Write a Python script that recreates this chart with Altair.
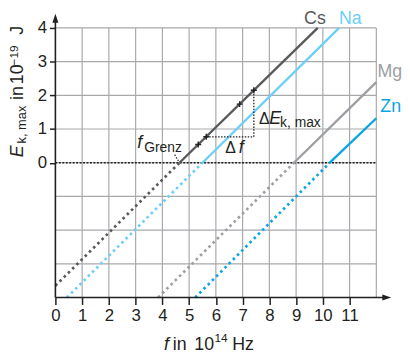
import altair as alt
import pandas as pd

# ---------------- data ----------------
metals = ["Cs", "Na", "Mg", "Zn"]
colors = ["#58595b", "#6dcff6", "#9d9fa2", "#0aa5e3"]
start_x = [0.0, 0.43, 3.84, 5.23]
start_y = [-3.65, -4.0, -4.0, -4.0]
thresh_x = [4.64, 5.50, 8.92, 10.26]
end_x = [9.81, 10.61, 12.0, 12.0]
end_y = [4.0, 4.0, 2.39, 1.32]

cross_x = [5.34, 5.64, 6.89, 7.42]
cross_y = [0.54, 0.77, 1.74, 2.15]

x_ticks = list(range(0, 12))
y_ticks = list(range(0, 5))
grid_vx = list(range(1, 13))
grid_hy = list(range(-4, 5))

INK = "#231f20"
FONT = "Liberation Sans"

xs = alt.Scale(domain=[0, 12], nice=False, zero=False)
ys = alt.Scale(domain=[-4, 4], nice=False, zero=False)
xaxis = alt.Axis(values=x_ticks, title=None, grid=False, domain=False, tickSize=7,
                 tickWidth=1.5, tickColor=INK, labelFontSize=17, labelFont=FONT,
                 labelColor=INK, labelPadding=3, labelFlush=False, labelOverlap=False)
yaxis = alt.Axis(values=y_ticks, title=None, grid=False, domain=False, tickSize=6,
                 tickWidth=1.5, tickColor=INK, labelFontSize=17, labelFont=FONT,
                 labelColor=INK, labelPadding=3, labelFlush=False, labelOverlap=False)


def X(f):
    return alt.X(f, type="quantitative", scale=xs, axis=xaxis)


def Y(f):
    return alt.Y(f, type="quantitative", scale=ys, axis=yaxis)


# line table
rows = []
for m, sx, sy, tx, ex, ey in zip(metals, start_x, start_y, thresh_x, end_x, end_y):
    rows.append({"metal": m, "part": "dot", "x": sx, "y": sy, "o": 0})
    rows.append({"metal": m, "part": "dot", "x": tx, "y": 0.0, "o": 1})
    rows.append({"metal": m, "part": "solid", "x": tx, "y": 0.0, "o": 0})
    rows.append({"metal": m, "part": "solid", "x": ex, "y": ey, "o": 1})
lines = pd.DataFrame(rows)

grid_rows = [{"x": v, "x2": v, "y": -4, "y2": 4} for v in grid_vx]
grid_rows += [{"x": 0, "x2": 12, "y": h, "y2": h} for h in grid_hy]
grid = pd.DataFrame(grid_rows)

color = alt.Color("metal:N", scale=alt.Scale(domain=metals, range=colors), legend=None)

grid_layer = alt.Chart(grid).mark_rule(color="#a7a9ac", strokeWidth=1.2).encode(
    x=X("x"), x2="x2", y=Y("y"), y2="y2")

zero_layer = alt.Chart(pd.DataFrame({"x": [0], "x2": [12], "y": [0]})).mark_rule(
    color=INK, strokeWidth=1.5, strokeDash=[2, 1.5]).encode(x=X("x"), x2="x2", y=Y("y"))

dot_layer = alt.Chart(lines[lines.part == "dot"]).mark_line(
    strokeWidth=2.7, strokeDash=[2.6, 3.4], strokeCap="butt").encode(
    x=X("x"), y=Y("y"), color=color, detail="metal:N", order="o:Q")

solid_layer = alt.Chart(lines[lines.part == "solid"]).mark_line(
    strokeWidth=2.4).encode(x=X("x"), y=Y("y"), color=color, detail="metal:N", order="o:Q")

tri = pd.DataFrame({"x": [cross_x[1], cross_x[3]], "x2": [cross_x[3], cross_x[3]],
                    "y": [cross_y[1], cross_y[1]], "y2": [cross_y[1], cross_y[3]]})
tri_layer = alt.Chart(tri).mark_rule(color=INK, strokeWidth=1.3, strokeDash=[1.5, 1.5]).encode(
    x=X("x"), x2="x2", y=Y("y"), y2="y2")

lead = pd.DataFrame({"x": [4.46], "x2": [4.62], "y": [0.24], "y2": [0.02]})
lead_layer = alt.Chart(lead).mark_rule(color=INK, strokeWidth=1.2, strokeDash=[1.5, 1.5]).encode(
    x=X("x"), x2="x2", y=Y("y"), y2="y2")

cross_layer = alt.Chart(pd.DataFrame({"x": cross_x, "y": cross_y})).mark_point(
    shape="M-1,0H1M0,-1V1", filled=False, size=36, strokeWidth=1.4, color=INK, opacity=1).encode(
    x=X("x"), y=Y("y"))

# axes lines and arrows
axes = pd.DataFrame({"x": [0, 0], "x2": [0, 12.3], "y": [-4, -4], "y2": [4.2, -4]})
axes_layer = alt.Chart(axes).mark_rule(color=INK, strokeWidth=1.6).encode(
    x=X("x"), x2="x2", y=Y("y"), y2="y2")
arrow_up = alt.Chart(pd.DataFrame({"x": [0], "y": [4.287]})).mark_point(
    shape="M0,-1L0.67,1L-0.67,1Z", filled=True, size=81, color=INK, opacity=1).encode(
    x=X("x"), y=Y("y"))
arrow_right = alt.Chart(pd.DataFrame({"x": [12.39], "y": [-4]})).mark_point(
    shape="M1,0L-1,-0.67L-1,0.67Z", filled=True, size=81, color=INK, opacity=1).encode(
    x=X("x"), y=Y("y"))


def txt(s, x, y, size=18, italic=False, col=INK, angle=0):
    kw = dict(align="left", baseline="alphabetic", font=FONT, fontSize=size,
              fontStyle="italic" if italic else "normal", color=col)
    if angle:
        kw["angle"] = angle
    return alt.Chart(pd.DataFrame({"t": [s], "x": [x], "y": [y]})).mark_text(**kw).encode(
        x=X("x"), y=Y("y"), text="t:N")


texts = [
    # x title
    txt("f", 4.06, -5.544, italic=True),
    txt("in", 4.39, -5.544),
    txt("10", 5.195, -5.544),
    txt("14", 5.945, -5.33, size=12),
    txt("Hz", 6.61, -5.544),
    # y title
    txt("E", -1.218, 0.161, italic=True, angle=270),
    txt("k, max", -1.108, 0.571, size=13, angle=270),
    txt("in", -1.218, 1.861, angle=270),
    txt("10", -1.218, 2.33, angle=270),
    txt("\u221219", -1.39, 2.886, size=12, angle=270),
    txt("J", -1.218, 3.795, angle=270),
    # series labels
    txt("Cs", 9.30, 4.117, col=colors[0]),
    txt("Na", 10.60, 4.117, col=colors[1]),
    txt("Mg", 12.04, 2.535, col=colors[2]),
    txt("Zn", 12.15, 1.494, col=colors[3]),
    # annotations
    txt("f", 3.06, 0.425, italic=True),
    txt("Grenz", 3.32, 0.308, size=14),
    txt("\u0394", 6.35, 0.278, size=16),
    txt("f", 6.86, 0.278, italic=True),
    txt("\u0394", 7.61, 1.157, size=16),
    txt("E", 8.0, 1.157, italic=True),
    txt("k, max", 8.40, 1.055, size=14),
]

chart = alt.layer(grid_layer, zero_layer, dot_layer, solid_layer, tri_layer, lead_layer,
                  cross_layer, axes_layer, arrow_up, arrow_right, *texts).properties(
    width=325, height=273,
    padding={"left": 48, "top": 18, "right": 26, "bottom": 54},
    autosize=alt.AutoSizeParams(type="none"),
    background="white",
).configure_view(stroke=None)

chart.save("out.html", embed_options={"renderer": "svg", "actions": False})
